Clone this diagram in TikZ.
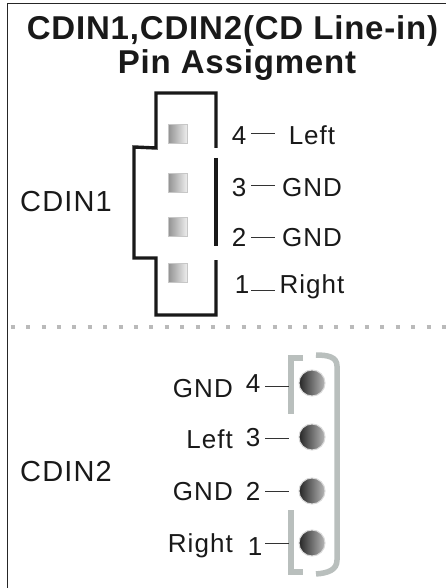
\documentclass[tikz,border=0pt]{standalone}
\usepackage{fontspec}
\setmainfont{Liberation Sans}
\newfontfamily\lblfont[LetterSpace=4]{Liberation Sans}
\newfontfamily\ttlfont[LetterSpace=2.5]{Liberation Sans Bold}
\begin{document}
\begin{tikzpicture}[x=1pt,y=-1pt,
  frameline/.style={draw=black!85,line width=1.2pt},
  housing/.style={draw=black!90,line width=3.4pt,line cap=butt,line join=miter},
  bracket/.style={draw=graybr,line width=5.5pt,line cap=butt},
  lead/.style={draw=black!80,line width=0.9pt},
  lbl/.style={inner sep=0pt,font=\fontsize{26}{26}\lblfont,text=black!90},
  conn/.style={inner sep=0pt,font=\fontsize{29}{29}\lblfont,text=black!90},
  ttl/.style={inner sep=0pt,font=\fontsize{33}{33}\ttlfont,text=black!90},
  sqpin/.style={draw=black!22,line width=1pt,minimum size=19pt,inner sep=0pt,left color=black!42,right color=black!6},
  rdpin/.style={circle,draw=black!15,line width=1pt,minimum size=26pt,inner sep=0pt,left color=black!85,right color=black!28}]
\definecolor{graybr}{HTML}{B9BFBD}
\useasboundingbox (0,0) rectangle (446,588);
\fill[white] (0,0) rectangle (446,588);
\draw[frameline] (7.5,588) -- (7.5,3.5) -- (446,3.5);
% title
\node[ttl,anchor=base] (t1) at (232.5,40) {CDIN1,CDIN2(CD Line-in)};
\node[ttl,anchor=base] (t2) at (237,74) {Pin Assigment};
% divider
\draw[draw=black!27,line width=4pt,dash pattern=on 4pt off 11.4pt] (10.7,326.7) -- (446,326.7);
% CDIN1 housing
\draw[housing] (216,148) -- (216,93) -- (156,93) -- (156,148) -- (134,147) -- (134,258) -- (156,258) -- (156,315) -- (216,315) -- (216,260);
\draw[housing] (216,158) -- (216,246);
\foreach \n/\y in {a/134,b/183,c/227,d/273}{\node[sqpin] (p\n) at (178,\y) {};}
\node[lbl,anchor=base] (n4) at (239,145) {4};
\node[lbl,anchor=base] (n3) at (239,196) {3};
\node[lbl,anchor=base] (n2) at (239,246) {2};
\node[lbl,anchor=base] (n1) at (242,293) {1};
\node[lbl,anchor=base] (l4) at (312,145) {Left};
\node[lbl,anchor=base] (l3) at (312,196) {GND};
\node[lbl,anchor=base] (l2) at (312,246) {GND};
\node[lbl,anchor=base] (l1) at (312,293) {Right};
\coordinate (a4) at (251,133); \coordinate (b4) at (275,133);
\coordinate (a3) at (251,185); \coordinate (b3) at (275,185);
\coordinate (a2) at (251,237); \coordinate (b2) at (275,237);
\coordinate (a1) at (251,290); \coordinate (b1) at (275,290);
\foreach \k in {1,2,3,4}{\draw[lead] (a\k) -- (b\k);}
\node[conn,anchor=base west] (c1) at (20,211) {CDIN1};
% CDIN2
\draw[bracket] (303,358) -- (291,358) -- (291,414);
\draw[bracket] (291,510) -- (291,572) -- (303,572);
\draw[bracket] (316,355) .. controls (328,355) and (337,357) .. (337,366) -- (337,560) .. controls (337,570) and (328,573) .. (316,574);
\foreach \n/\y in {a/383,b/437,c/491,d/543}{\node[rdpin] (r\n) at (312,\y) {};}
\coordinate (e4) at (265,386); \coordinate (f4) at (289,386);
\coordinate (e3) at (265,438); \coordinate (f3) at (289,438);
\coordinate (e2) at (265,491); \coordinate (f2) at (289,491);
\coordinate (e1) at (265,543); \coordinate (f1) at (289,543);
\foreach \k in {1,2,3,4}{\draw[lead] (e\k) -- (f\k);}
\node[lbl,anchor=base] (m4) at (253,392) {4};
\node[lbl,anchor=base] (m3) at (253,446) {3};
\node[lbl,anchor=base] (m2) at (253,500) {2};
\node[lbl,anchor=base] (m1) at (255,555) {1};
\node[lbl,anchor=base east] (g4) at (233,397) {GND};
\node[lbl,anchor=base east] (g3) at (233,448) {Left};
\node[lbl,anchor=base east] (g2) at (233,500) {GND};
\node[lbl,anchor=base east] (g1) at (233,552) {Right};
\node[conn,anchor=base west] (c2) at (20,481.5) {CDIN2};
\end{tikzpicture}
\end{document}
